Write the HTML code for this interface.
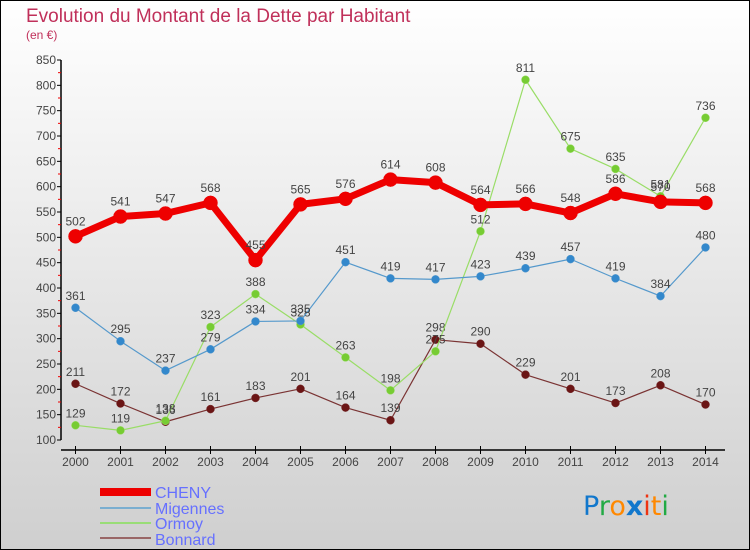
<!DOCTYPE html>
<html><head><meta charset="utf-8"><style>
html,body{margin:0;padding:0}
body{width:750px;height:550px;overflow:hidden;font-family:"Liberation Sans","DejaVu Sans",sans-serif}
svg{display:block}
</style></head><body>
<svg id="chart" width="750" height="550" xmlns="http://www.w3.org/2000/svg">
<defs><linearGradient id="bg" x1="0" y1="0" x2="0" y2="1"><stop offset="0" stop-color="#ffffff"/><stop offset="1" stop-color="#cfcfcf"/></linearGradient></defs>
<rect x="0.5" y="0.5" width="749" height="549" fill="url(#bg)" stroke="#000" stroke-width="1"/>
<text x="26" y="22" font-size="19" fill="#c0305a">Evolution du Montant de la Dette par Habitant</text>
<text x="26" y="39" font-size="12" fill="#c0305a">(en €)</text>
<g id="axes"></g><g id="series"></g>
<g>
<line x1="100" y1="492" x2="151" y2="492" stroke="#ee0000" stroke-width="8"/>
<text x="155" y="498" font-size="16" fill="#6670ff">CHENY</text>
<line x1="100" y1="508" x2="151" y2="508" stroke="#7aaed0" stroke-width="2"/>
<text x="155" y="514" font-size="16" fill="#6670ff">Migennes</text>
<line x1="100" y1="523" x2="151" y2="523" stroke="#99dd77" stroke-width="2"/>
<text x="155" y="529" font-size="16" fill="#6670ff">Ormoy</text>
<line x1="100" y1="538" x2="151" y2="538" stroke="#996666" stroke-width="2"/>
<text x="155" y="545" font-size="16" fill="#6670ff">Bonnard</text>
</g>
<g font-size="27" font-family="'DejaVu Sans',sans-serif">
<text x="583" y="515"><tspan fill="#1177cc">P</tspan><tspan fill="#22aa44">r</tspan><tspan fill="#ff8800">o</tspan><tspan fill="#1177cc" font-weight="bold">x</tspan><tspan fill="#ee3311">i</tspan><tspan fill="#ff8800">t</tspan><tspan fill="#22aa44">i</tspan></text>
</g>
</svg>
<script>
const years = [2000,2001,2002,2003,2004,2005,2006,2007,2008,2009,2010,2011,2012,2013,2014];
const cheny = [502,541,547,568,455,565,576,614,608,564,566,548,586,570,568];
const migennes = [361,295,237,279,334,335,451,419,417,423,439,457,419,384,480];
const ormoy = [129,119,138,323,388,328,263,198,275,512,811,675,635,581,736];
const bonnard = [211,172,136,161,183,201,164,139,298,290,229,201,173,208,170];
const yTicks = [100,150,200,250,300,350,400,450,500,550,600,650,700,750,800,850];

const NS="http://www.w3.org/2000/svg";
function xs(i){return 75.5+(i)*45;}
function ys(v){return 440-(v-100)*(380/750);}
function mk(tag,attrs,parent,txt){const e=document.createElementNS(NS,tag);for(const k in attrs)e.setAttribute(k,attrs[k]);if(txt!==undefined)e.textContent=txt;parent.appendChild(e);return e;}
const axes=document.getElementById('axes');
const ax=mk('line',{x1:61,y1:ys(850),x2:61,y2:ys(100),stroke:'#000','stroke-width':1.5},axes);


yTicks.forEach(v=>{
  mk('line',{x1:57,y1:ys(v),x2:61,y2:ys(v),stroke:'#000'},axes);
  if(v<850) mk('line',{x1:58,y1:ys(v+25),x2:61,y2:ys(v+25),stroke:'#e00'},axes);
  const t=mk('text',{x:56,y:ys(v)+4,'text-anchor':'end','font-size':12,fill:'#444'},axes,String(v));
  
  
});
const xa=mk('line',{x1:61,y1:450,x2:725,y2:450,stroke:'#000','stroke-width':1.5},axes);


years.forEach((y,i)=>{
  mk('line',{x1:xs(i),y1:446,x2:xs(i),y2:454,stroke:'#000'},axes);
  const t=mk('text',{x:xs(i),y:466,'text-anchor':'middle','font-size':12,fill:'#444'},axes,String(y));
  
  
});
const ser=document.getElementById('series');
function draw(name,vals,color,dot,w,r){
  const g=mk('g',{},ser);
  
  
  mk('polyline',{points:vals.map((v,i)=>xs(i)+','+ys(v)).join(' '),fill:'none',stroke:color,'stroke-width':w,'stroke-linejoin':'round'},g);
  vals.forEach((v,i)=>{
    const c=mk('circle',{cx:xs(i),cy:ys(v),r:r,fill:dot,stroke:color,'stroke-width':0.5},g);
    
    
    const t=mk('text',{x:xs(i),y:ys(v)-r-4,'text-anchor':'middle','font-size':12,fill:'#444'},g,String(v));
    
    
  });
}
draw('bonnard',bonnard,'#7a3333','#6b1515',1.2,4);
draw('ormoy',ormoy,'#99dd66','#77cc33',1.2,4);
draw('migennes',migennes,'#5599cc','#3388cc',1.2,4);
draw('cheny',cheny,'#ee0000','#ee0000',7,7);
</script>
</body></html>
